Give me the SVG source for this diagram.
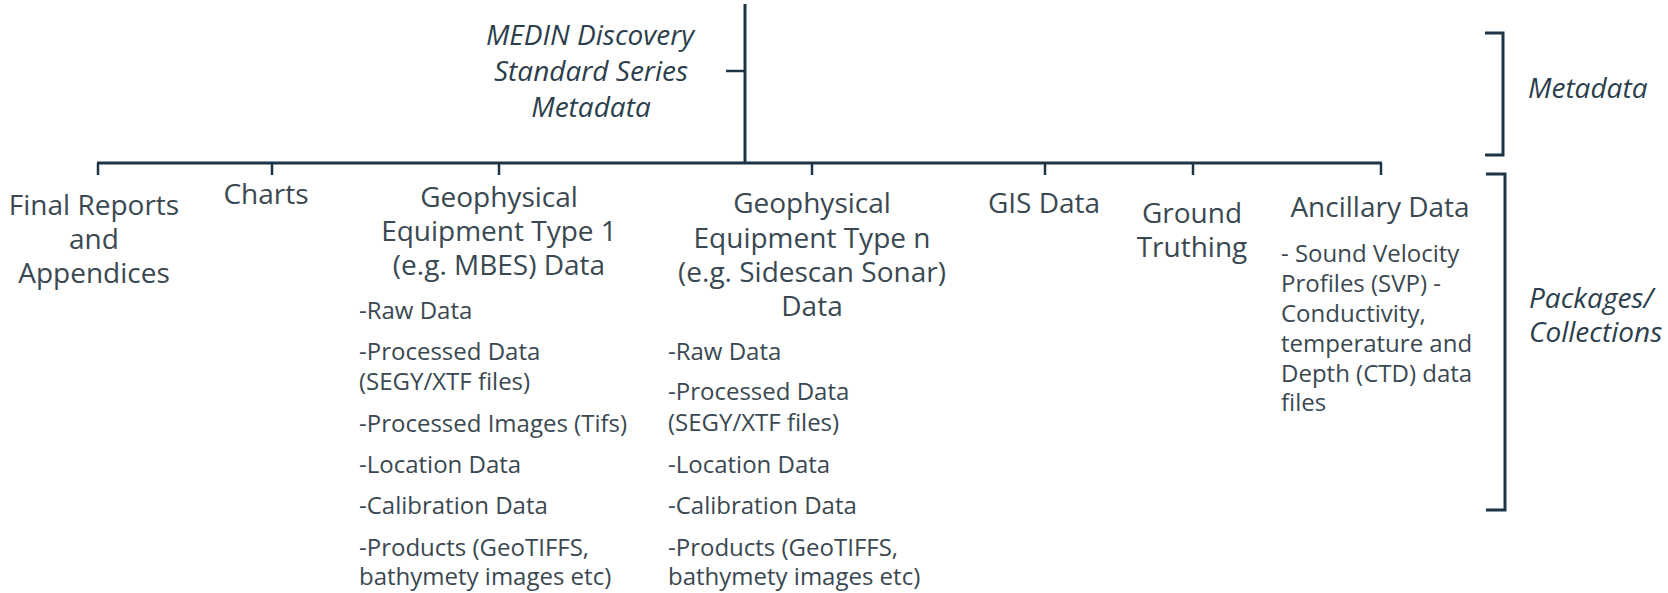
<svg xmlns="http://www.w3.org/2000/svg" width="1668" height="593" viewBox="0 0 1668 593">
<style>
.ln{stroke:#1d3447;stroke-width:3;fill:none;stroke-linecap:butt}
.tk{stroke:#1d3447;stroke-width:2.5;fill:none}
.h{font-family:"Open Sans","Liberation Sans",sans-serif;font-size:28px;fill:#3a4851;text-anchor:middle}
.s{font-family:"Open Sans","Liberation Sans",sans-serif;font-size:24px;fill:#3a4851}
.it{font-family:"Open Sans","Liberation Sans",sans-serif;font-size:28px;font-style:italic;fill:#2c3e4c}
</style>
<rect width="1668" height="593" fill="#ffffff"/>
<g id="connectors">
<line class="ln" x1="745" y1="4" x2="745" y2="164"/>
<line class="tk" x1="726" y1="71" x2="745" y2="71"/>
<line class="ln" x1="97" y1="163" x2="1382" y2="163"/>
<line class="tk" x1="98" y1="163" x2="98" y2="175"/>
<line class="tk" x1="272" y1="163" x2="272" y2="175"/>
<line class="tk" x1="499" y1="163" x2="499" y2="175"/>
<line class="tk" x1="812" y1="163" x2="812" y2="175"/>
<line class="tk" x1="1045" y1="163" x2="1045" y2="175"/>
<line class="tk" x1="1193" y1="163" x2="1193" y2="175"/>
<line class="tk" x1="1381" y1="163" x2="1381" y2="175"/>
<path class="ln" d="M1485 33 H1503 V155 H1485"/>
<path class="ln" d="M1486 174 H1505 V510 H1486"/>
</g>
<g id="root">
<text class="it" text-anchor="middle" x="590" y="45">MEDIN Discovery</text>
<text class="it" text-anchor="middle" x="591" y="81">Standard Series</text>
<text class="it" text-anchor="middle" x="591" y="117">Metadata</text>
</g>
<g id="final-reports">
<text class="h" x="94" y="215">Final Reports</text>
<text class="h" x="94" y="249">and</text>
<text class="h" x="94" y="283">Appendices</text>
</g>
<g id="charts">
<text class="h" x="266" y="204">Charts</text>
</g>
<g id="geo1">
<text class="h" x="499" y="207">Geophysical</text>
<text class="h" x="499" y="241">Equipment Type 1</text>
<text class="h" x="499" y="275">(e.g. MBES) Data</text>
<text class="s" x="359" y="319">-Raw Data</text>
<text class="s" x="359" y="360">-Processed  Data</text>
<text class="s" x="359" y="390">(SEGY/XTF files)</text>
<text class="s" x="359" y="432">-Processed  Images (Tifs)</text>
<text class="s" x="359" y="473">-Location Data</text>
<text class="s" x="359" y="514">-Calibration Data</text>
<text class="s" x="359" y="556">-Products (GeoTIFFS,</text>
<text class="s" x="359" y="585">bathymety images etc)</text>
</g>
<g id="geon">
<text class="h" x="812" y="213">Geophysical</text>
<text class="h" x="812" y="248">Equipment Type n</text>
<text class="h" x="812" y="282">(e.g. Sidescan Sonar)</text>
<text class="h" x="812" y="316">Data</text>
<text class="s" x="668" y="360">-Raw Data</text>
<text class="s" x="668" y="400">-Processed  Data</text>
<text class="s" x="668" y="431">(SEGY/XTF files)</text>
<text class="s" x="668" y="473">-Location Data</text>
<text class="s" x="668" y="514">-Calibration Data</text>
<text class="s" x="668" y="556">-Products (GeoTIFFS,</text>
<text class="s" x="668" y="585">bathymety images etc)</text>
</g>
<g id="gis">
<text class="h" x="1044" y="213">GIS Data</text>
</g>
<g id="ground">
<text class="h" x="1192" y="223">Ground</text>
<text class="h" x="1192" y="257">Truthing</text>
</g>
<g id="ancillary">
<text class="h" x="1380" y="217">Ancillary Data</text>
<text class="s" x="1281" y="262">- Sound Velocity</text>
<text class="s" x="1281" y="292">Profiles (SVP) -</text>
<text class="s" x="1281" y="322">Conductivity,</text>
<text class="s" x="1281" y="352">temperature and</text>
<text class="s" x="1281" y="382">Depth (CTD) data</text>
<text class="s" x="1281" y="411">files</text>
</g>
<g id="metadata-label">
<text class="it" x="1528" y="98">Metadata</text>
</g>
<g id="packages-label">
<text class="it" x="1529" y="308">Packages/</text>
<text class="it" x="1529" y="342">Collections</text>
</g>
</svg>
